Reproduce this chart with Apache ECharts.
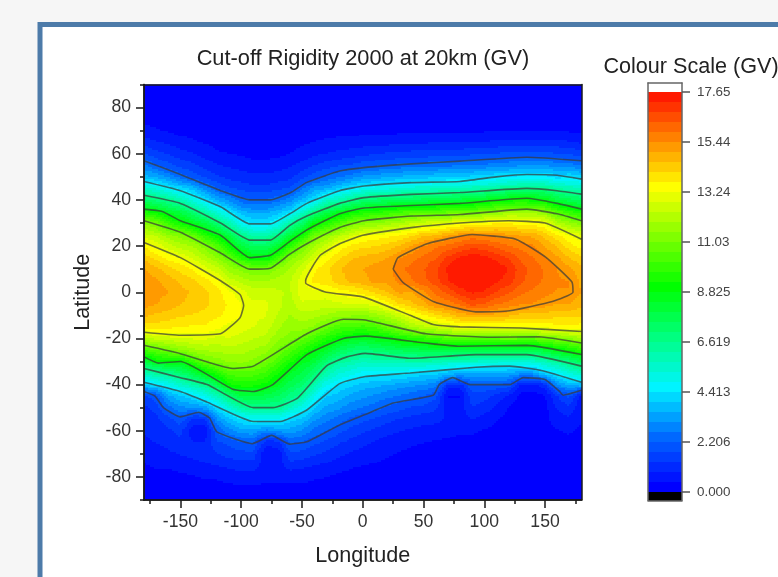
<!DOCTYPE html>
<html><head><meta charset="utf-8">
<style>html,body{margin:0;padding:0;background:#f6f6f6;overflow:hidden}#c{width:778px;height:577px}</style>
<script src="https://cdn.jsdelivr.net/npm/echarts@6/dist/echarts.min.js"></script>
</head><body><div id="c"></div>
<script>
const lons=[-180,-170,-160,-150,-140,-130,-120,-110,-100,-90,-80,-70,-60,-50,-40,-30,-20,-10,0,10,20,30,40,50,60,70,80,90,100,110,120,130,140,150,160,170,180];
const lats=[90,85,80,75,70,65,60,55,50,45,40,35,30,25,20,15,10,5,0,-5,-10,-15,-20,-25,-30,-35,-40,-45,-50,-55,-60,-65,-70,-75,-80,-85,-90];
// rigidity (GV): one list per longitude, running from lat 90 to lat -90
const rigidity=[
[.1,.1,.15,.3,.6,1.1,1.8,2.7,3.7, 5.5,7.3,9.2,11.4,12.5,13.6,14.4,15,15.3, 15.4,15.2,14.7,13.8,12.2,10.2,7.9,5.9,3.9, 1.7,1.2,1,.9,.8,.6,.4,.2,.15,.1],
[.1,.1,.15,.25,.5,.9,1.5,2.2,3.5, 5.2,6.9,8.9,10.9,12.2,13.1,14,14.7,15.1, 15.2,15,14.5,13.9,12.6,10.6,8.8,6.4,4.4, 2,1.5,1.2,1,.9,.7,.5,.3,.15,.1],
[.1,.1,.15,.2,.4,.8,1.3,1.9,3, 4.6,6.6,8.2,10,11.5,12.6,13.5,14.3,14.8, 15,14.8,14.4,13.8,12.7,11,9,6.6,4.8, 3.4,2.4,1.6,1.2,1,.8,.5,.3,.15,.1],
[.1,.1,.15,.2,.3,.6,1.1,1.6,2.5, 4.2,6,7.8,9.2,11.2,12.1,13.2,14,14.5, 14.7,14.6,14.2,13.7,12.8,11.4,8.8,7.2,5.5, 3.9,3,2,1.5,1.2,.9,.6,.35,.2,.1],
[.1,.1,.1,.15,.25,.5,.9,1.4,2, 3.7,5.2,6.9,8.5,10.6,11.9,12.7,13.6,14.2, 14.5,14.4,14.1,13.6,12.9,11.8,9.9,7.9,6.1, 4.4,3,1.3,.5,.9,1,.7,.4,.2,.1],
[.1,.1,.1,.15,.2,.4,.7,1.1,1.7, 2.8,4.4,6.1,7.9,9.5,11.2,12.1,13,13.9, 14.2,14.2,14,13.6,12.9,12,10.8,8.8,6.6, 5,3.3,1.3,.5,.9,1.1,.8,.5,.25,.1],
[.1,.1,.1,.1,.2,.3,.5,.9,1.4, 2.2,3.5,5.2,7,8.8,10.4,11.5,12.5,13.4, 13.9,14,13.8,13.35,12.7,12,11.2,9.6,7.7, 5.8,4.2,3.1,2.2,1.7,1.3,.9,.5,.25,.1],
[.1,.1,.1,.1,.15,.25,.45,.8,1.2, 1.8,3,4.4,6,7.8,9.1,10.7,11.7,12.6, 13.3,13.6,13.5,13.1,12.8,12.2,11.5,10.4,9.1, 7,5.3,3.9,2.9,1.9,1.5,1,.6,.3,.1],
[.1,.1,.1,.1,.1,.2,.4,.7,1.1, 1.6,2.4,3.6,4.8,6.6,8,9.6,11.3,12.2, 13,13.25,13.25,13,12.6,12.1,11.6,10.5,9.4, 7.9,6.2,4.4,3.3,2.2,1.6,1.1,.7,.3,.1],
[.1,.1,.1,.1,.1,.15,.3,.6,1, 1.5,2.2,3.3,4.3,6,7.4,8.8,11,11.9, 12.5,12.9,13,12.8,12.4,11.9,11.3,10.4,9.4, 8,6.6,4.8,3.4,2.3,1.6,1.1,.7,.3,.1],
[.1,.1,.1,.1,.1,.15,.3,.6,1, 1.5,2.2,3.3,4.3,6,7.4,8.8,11,11.9, 12.6,12.9,12.8,12.6,12.2,11.7,11,10.1,9.1, 7.8,6.6,4.8,2.9,1.1,.5,.7,.6,.3,.1],
[.1,.1,.1,.1,.1,.2,.35,.65,1.1, 1.6,2.5,3.7,4.9,6.6,8.2,10,11.5,12.1, 12.4,12.5,12.3,12,11.6,11,10.2,9.3,8.4, 7.5,6.6,4.8,3.2,1.2,.5,.7,.6,.3,.1],
[.1,.1,.1,.1,.15,.25,.45,.8,1.2, 1.8,2.9,4.2,6.2,8,9.7,11.3,12,12.3, 12.3,12.1,11.9,11.6,11.3,10.4,9.4,8.4,7.7, 6.9,5.7,4.2,3.3,2.3,1.7,1.1,.6,.3,.1],
[.1,.1,.1,.1,.2,.35,.6,1,1.6, 2.5,3.6,5.4,7.2,9,11,11.9,12.6,13.1, 13.1,12.7,12.2,11.7,10.8,9.7,8.6,7.9,7.2, 6.3,5,3.9,3,2.2,1.6,1,.6,.3,.1],
[.1,.1,.1,.15,.25,.45,.8,1.3,2, 3.2,4.4,6.6,8.8,10.8,11.8,12.8,13.6,13.8, 13.1,12.7,12.1,11.4,10.2,9,8.1,7.2,6.1, 5,4,3.2,2.5,1.9,1.4,.9,.5,.25,.1],
[.1,.1,.1,.15,.3,.5,.9,1.5,2.3, 3.4,5.6,7.6,9.5,11.3,12.6,13.5,14,13.9, 13.2,12.5,11.9,10.8,9.6,8.4,7.1,6.1,4.9, 4,3.4,2.8,2.2,1.7,1.2,.8,.45,.2,.1],
[.1,.1,.1,.15,.3,.55,1,1.7,2.6, 3.9,5.9,8.3,10.2,12,13.3,14,14.4,14.3, 13.5,12.7,11.6,10.3,9.1,7.7,6.4,5.4,4.4, 3.8,3.2,2.5,1.9,1.4,1,.65,.35,.2,.1],
[.1,.1,.1,.15,.3,.6,1.1,1.8,2.9, 4.4,6.6,8.8,11,12.6,13.8,14.5,14.9,14.7, 13.6,12.8,11.6,10.1,8.7,7.2,6.1,5,4.1, 3.4,2.8,2.1,1.6,1.2,.8,.5,.3,.15,.1],
[.1,.1,.1,.15,.3,.65,1.2,2,3.2, 4.8,7,9.2,11.3,13.1,14,14.7,15,14.8, 13.9,12.8,11.5,10,8.5,7,5.8,4.7,3.8, 3.2,2.6,1.9,1.4,1,.7,.45,.25,.15,.1],
[.1,.1,.1,.15,.3,.7,1.3,2.1,3.3, 5,7.2,9.4,11.4,13.3,14.1,14.8,15.2,15.2, 14.2,13,11.7,10.2,8.8,7.2,5.9,4.6,3.7, 3,2.4,1.7,1.2,.85,.6,.4,.2,.15,.1],
[.1,.1,.1,.15,.3,.7,1.4,2.2,3.5, 5.1,7.4,9.6,11.7,13.4,14.3,15,15.2,15.1, 14.6,13.5,12.1,10.7,8.9,7.4,5.9,4.7,3.5, 2.8,2.1,1.5,1,.7,.5,.3,.2,.1,.1],
[.1,.1,.1,.15,.35,.75,1.4,2.3,3.6, 5.2,7.5,9.9,11.9,13.6,14.6,15.4,15.8,15.6, 15.1,14.1,12.6,11.2,9.4,7.6,6,4.6,3.4, 2.6,1.9,1.3,.9,.6,.4,.25,.15,.1,.1],
[.1,.1,.1,.15,.35,.8,1.5,2.4,3.7, 5.4,7.6,10.1,12.3,13.9,15,15.7,16,15.8, 15,14.4,13.2,11.9,9.6,7.7,6.1,4.4,3.2, 2.4,1.7,1.2,.8,.5,.35,.2,.1,.1,.1],
[.1,.1,.1,.15,.35,.8,1.5,2.4,3.8, 5.5,7.7,10.2,12.5,14.4,15.44,16,16.3,16.2, 15.4,14.9,13.7,12.2,9.9,7.8,6.1,4.2,3.1, 2.2,1.6,1.1,.7,.45,.3,.15,.1,.1,.1],
[.1,.1,.1,.15,.35,.85,1.6,2.5,3.9, 5.6,7.8,10.3,12.7,14.5,15.8,16.3,16.7,16.6, 16,15.4,14.1,12.5,10.2,7.9,6,4.2,2.8, 1.9,1.4,1,.7,.4,.25,.15,.1,.1,.1],
[.1,.1,.1,.15,.35,.85,1.6,2.5,4, 5.7,8,10.4,12.9,14.9,16,16.9,17.3,17.2, 16.5,15.6,14.4,12.8,10.5,8,5.8,3.8,1.2, .4,.6,.8,.6,.35,.2,.1,.1,.1,.1],
[.1,.1,.1,.15,.35,.85,1.6,2.6,4, 5.7,8.1,10.4,13.2,15.2,16.3,17.3,17.65,17.6, 17,16,14.8,13.2,10.5,8,5.6,3.7,1.1, .4,.6,.7,.5,.3,.15,.1,.1,.1,.1],
[.1,.1,.1,.15,.35,.9,1.7,2.7,4.1, 5.9,8.3,10.5,13.4,15.44,16.6,17.5,17.65,17.65, 17.3,16.5,15,13.2,10.8,7.9,5.6,3.5,2.2, 1.6,1.3,.9,.5,.3,.15,.1,.1,.1,.1],
[.1,.1,.1,.15,.4,.9,1.7,2.7,4.2, 6,8.5,11,13.3,15.3,16.5,17.4,17.65,17.6, 17.2,16.3,15,13.2,10.8,7.9,5.5,3.6,2.2, 1.5,1.1,.7,.4,.25,.1,.1,.1,.1,.1],
[.1,.1,.1,.15,.4,.95,1.8,2.8,4.4, 6.2,8.8,11.2,13.7,15.2,16.2,17.1,17.5,17.3, 16.8,15.9,14.9,13.2,10.8,7.9,5.5,3.6,2.2, 1.2,.8,.5,.3,.15,.1,.1,.1,.1,.1],
[.1,.1,.1,.15,.4,1,1.9,2.9,4.4, 6.6,9,11.5,13.6,15.1,15.9,16.7,17.2,17, 16.4,15.7,14.7,13.2,10.9,7.9,5.3,3.5,2, .8,.4,.3,.15,.1,.1,.1,.1,.1,.1],
[.1,.1,.1,.15,.4,1,1.9,3,4.6, 6.6,9.2,11.5,13.5,14.9,15.7,16.2,16.5,16.4, 16,15.5,14.4,13.3,10.8,7.9,5.4,3.2,.8, .3,.2,.15,.1,.1,.1,.1,.1,.1,.1],
[.1,.1,.1,.15,.4,1,1.9,3,4.6, 6.6,9,11.5,13.5,14.8,15.5,15.9,16.2,16.1, 15.8,15.4,14.4,13.3,10.8,7.9,5.5,3.3,.7, .25,.2,.15,.1,.1,.1,.1,.1,.1,.1],
[.1,.1,.1,.15,.4,1,1.9,3,4.6, 6.6,8.8,11.2,13.2,14.3,15,15.44,15.8,15.8, 15.6,15.2,14.4,13.4,11,8.2,5.9,4.2,1.2, .4,.3,.3,.2,.1,.1,.1,.1,.1,.1],
[.1,.1,.1,.15,.4,1,1.8,2.9,4.2, 6.2,8,10.3,12.1,13.7,14.5,15.1,15.44,15.5, 15.4,15,14.3,13.5,11.3,8.8,6.4,4.7,3, 1.3,.9,.7,.4,.25,.15,.1,.1,.1,.1],
[.1,.1,.1,.15,.4,.9,1.7,2.8,4.4, 5.9,7.7,9.7,11.6,13.2,13.9,14.6,15.1,15.44, 15.44,15,14.3,13.5,11.5,9.2,6.9,5.3,3.6, 1.9,1.2,.8,.5,.3,.2,.1,.1,.1,.1],
[.1,.1,.1,.15,.35,.8,1.6,2.6,4.1, 5.8,7.4,9.2,11.2,12.9,13.5,14.2,14.7,14.9, 15,14.7,14.2,13.5,11.9,9.7,7.5,5.8,3.8, .7,.5,.5,.35,.2,.15,.1,.1,.1,.1]
];
// contour lines read as [longitude, latitude]
const north2206=[[-180,57],[-165,54],[-150,51],[-117,44],[-93,40],[-76,40],[-60,43],[-46,47.6],[-19,52.5],[1,54],[40,55.6],[80,56.8],[135,58.5],[180,57]];
const north4413=[[-180,48],[-150,44],[-117,37],[-93,29.6],[-76,29.6],[-60,34],[-46,38.5],[-19,44],[1,46],[40,47.5],[80,48],[110,50],[135,51],[160,50.7],[180,49]];
const north6619=[[-180,42],[-150,38.5],[-117,30],[-93,22.6],[-76,22.6],[-60,29],[-46,33],[-19,38.5],[1,41],[40,42.4],[80,43.2],[135,45],[160,44],[180,42.5]];
const north8825=[[-180,36],[-165,35],[-150,31],[-117,24.7],[-93,15],[-76,16],[-60,22],[-46,27],[-19,34],[1,36.5],[40,37.6],[80,38.5],[135,40.7],[160,38.5],[180,36]];
const north1103=[[-180,31],[-150,26],[-117,17],[-93,10],[-76,10.4],[-60,16.5],[-46,21],[-19,28],[1,31],[40,33],[80,33.7],[135,36],[160,34],[180,31]];
const lobeWest1324=[[-180,21.6],[-150,15],[-117,5],[-101,-1],[-98,-5.6],[-101,-11],[-117,-18],[-150,-18.6],[-180,-17.3]];
const lobeEast1324=[[180,23],[150,30],[120,31],[80,30],[40,28],[0,24.7],[-19,21],[-35,16],[-47,5],[-47,4],[-30,0],[0,-2],[39,-10],[58,-14],[80,-15],[130,-15.5],[180,-17]];
const peak1544=[[25,10],[29,15],[53,21],[90,25],[126,23],[151,15],[172,4.5],[173,0],[156,-4],[121,-8],[93,-8.5],[58,-4],[33,4.3],[25,10]];
const south1103=[[-180,-23],[-150,-26.6],[-107,-33],[-90,-32],[-46,-18],[-16,-11.7],[2,-12],[52,-18],[107,-19.5],[145,-19.3],[180,-22]];
const south8825=[[-180,-28],[-168,-30.7],[-150,-30],[-107,-42],[-90,-43],[-74,-40],[-46,-27],[-16,-20],[2,-19],[52,-22],[80,-23.4],[135,-23],[180,-27]];
const south6619=[[-180,-33],[-150,-37],[-128,-40],[-90,-50],[-74,-50],[-54,-46],[-30,-32],[-13,-28],[2,-26.5],[39,-28.6],[93,-27],[135,-27],[180,-32]];
const south4413=[[-180,-39],[-150,-43],[-128,-47.6],[-90,-56],[-68,-56],[-46,-51],[-19,-39.6],[2,-36.5],[39,-35],[93,-32.5],[121,-32],[148,-34],[180,-39]];
const south2206=[[-180,-43],[-171,-45],[-164,-50],[-150,-54],[-135,-52],[-126,-54.5],[-120,-60.5],[-91,-65.6],[-75,-62],[-60,-65.8],[-46,-64.8],[-19,-57.5],[2,-53],[25,-48],[58,-44.6],[63,-40],[74,-37],[88,-40],[121,-40],[132,-37],[150,-37.8],[162,-43],[165,-44.6],[180,-42.5]];
const contours=[north2206,north4413,north6619,north8825,north1103,lobeWest1324,lobeEast1324,peak1544,south1103,south8825,south6619,south4413,south2206];
const lonMajor=[-150,-100,-50,0,50,100,150], lonMinor=[-175,-125,-75,-25,25,75,125,175];
const latMajor=[-80,-60,-40,-20,0,20,40,60,80], latMinor=[-90,-70,-50,-30,-10,10,30,50,70,90];
const scaleTickLabels=['0.000','2.206','4.413','6.619','8.825','11.03','13.24','15.44','17.65'];
const scaleEdges=[-0.37,0,.44,.88,1.32,1.76,2.21,2.65,3.09,3.53,3.97,4.41,4.85,5.3,5.74,6.18,6.62,7.06,7.5,7.94,8.38,8.83,9.27,9.71,10.15,10.59,11.03,11.47,11.91,12.35,12.8,13.24,13.68,14.12,14.56,15,15.44,15.88,16.32,16.77,17.21,17.65,18.05];
const scaleColours=['#0000ff','#0068ff','#00f4ff','#00ff80','#00ff00','#80ff00','#ffff00','#ff8000','#ff0000'];

const cells=[];
lons.forEach((lon,i)=>lats.forEach((lat,j)=>cells.push([lon,lat,rigidity[i][j],i,j])));
const bands=scaleEdges.slice(0,-1).map((e,i)=>[e,scaleEdges[i+1],e]);
// colour of a shaded fraction inside a grid cell, taken from the band it falls in
const bandFill=scaleEdges.slice(1,-2).map(e=>echarts.color.lerp(Math.min(1,e/17.65),scaleColours));
function fillAt(v){let k=0;while(k<bandFill.length-1&&v>=scaleEdges[k+2])k++;return bandFill[k];}
function node(i,j){return rigidity[Math.max(0,Math.min(36,i))][Math.max(0,Math.min(36,j))];}
const SHADE=6;
const INK='#333', AX='#1a1a1a';
const F='"Liberation Sans",Arial,sans-serif';
const chart=echarts.init(document.getElementById('c'),null,{renderer:'canvas'});
const hide={show:false};
function lineOnly(o){return Object.assign({type:'value',axisLabel:hide,axisTick:hide,splitLine:hide,z:6,axisLine:{show:true,onZero:false,lineStyle:{color:AX,width:1.5}}},o);}
function scaleLine(o){return Object.assign({type:'value',gridIndex:1,min:0,max:1,axisLabel:hide,axisTick:hide,splitLine:hide,z:6,axisLine:{show:true,onZero:false,lineStyle:{color:'#666',width:1.5}}},o);}
const xr={min:-180,max:180}, yr={min:-90,max:90}, sr={min:-0.37,max:18.05};
chart.setOption({
 animation:false,
 backgroundColor:'#f6f6f6',
 textStyle:{fontFamily:F},
 graphic:[{type:'rect',z:-10,silent:true,shape:{x:40,y:24.5,width:800,height:700},style:{fill:'#fff',stroke:'#4d7ba9',lineWidth:5}}],
 title:[
  {text:'Cut-off Rigidity 2000 at 20km (GV)',left:358,top:43,textAlign:'center',textStyle:{fontSize:21.8,fontWeight:'normal',color:'#222',fontFamily:F}},
  {text:'Colour Scale (GV)',left:686,top:51,textAlign:'center',textStyle:{fontSize:21.6,fontWeight:'normal',color:'#222',fontFamily:F}}
 ],
 grid:[{left:144,top:84.5,width:437.5,height:415.5,containLabel:false},{left:648,top:83,width:34,height:417.5}],
 visualMap:{show:false,type:'continuous',seriesIndex:[14],dimension:2,min:0,max:17.65,inRange:{color:scaleColours}},
 xAxis:[
  Object.assign(lineOnly(xr),{position:'bottom',name:'Longitude',nameLocation:'middle',nameGap:45,nameTextStyle:{fontSize:21.6,color:'#222',fontFamily:F},
    axisTick:{show:true,length:8,customValues:lonMajor,lineStyle:{color:AX,width:1.5}},
    axisLabel:{show:true,customValues:lonMajor,margin:13,fontSize:17.6,color:INK,fontFamily:F}}),
  Object.assign(lineOnly(xr),{position:'bottom',axisTick:{show:true,length:4,customValues:lonMinor,lineStyle:{color:AX,width:1.5}}}),
  lineOnly(Object.assign({position:'top'},xr)),
  scaleLine({position:'bottom'}),
  scaleLine({position:'top'})
 ],
 yAxis:[
  Object.assign(lineOnly(yr),{position:'left',name:'Latitude',nameLocation:'middle',nameGap:50,nameRotate:90,nameTextStyle:{fontSize:21.6,color:'#222',fontFamily:F},
    axisTick:{show:true,length:8,customValues:latMajor,lineStyle:{color:AX,width:1.5}},
    axisLabel:{show:true,customValues:latMajor,margin:13,fontSize:17.6,color:INK,fontFamily:F}}),
  Object.assign(lineOnly(yr),{position:'left',axisTick:{show:true,length:4,customValues:latMinor,lineStyle:{color:AX,width:1.5}}}),
  lineOnly(Object.assign({position:'right'},yr)),
  Object.assign(scaleLine(sr),{position:'right',
    axisTick:{show:true,length:8,customValues:scaleTickLabels.map(Number),lineStyle:{color:'#555',width:1.5}},
    axisLabel:{show:true,customValues:scaleTickLabels.map(Number),margin:15,fontSize:13.4,color:'#444',fontFamily:F,
      formatter:v=>scaleTickLabels.find(s=>Math.abs(Number(s)-v)<1e-6)||''}}),
  scaleLine(Object.assign({position:'left'},sr))
 ],
 series:[
  {type:'custom',coordinateSystem:'cartesian2d',xAxisIndex:0,yAxisIndex:0,clip:true,z:2,silent:true,data:cells,
   renderItem(p,api){
    const lon=api.value(0),lat=api.value(1),i=api.value(3),j=api.value(4);
    const a=api.coord([lon-5,lat+2.5]),b=api.coord([lon+5,lat-2.5]);
    const children=[];
    for(let s=0;s<SHADE;s++)for(let t=0;t<SHADE;t++){
      const fx=(s+.5)/SHADE-.5,fy=(t+.5)/SHADE-.5;
      const di=fx<0?-1:1,dj=fy<0?-1:1,wx=Math.abs(fx),wy=Math.abs(fy);
      const v=(1-wx)*(1-wy)*node(i,j)+wx*(1-wy)*node(i+di,j)+(1-wx)*wy*node(i,j+dj)+wx*wy*node(i+di,j+dj);
      const x0=Math.round(a[0]+(b[0]-a[0])*s/SHADE),x1=Math.round(a[0]+(b[0]-a[0])*(s+1)/SHADE);
      const y0=Math.round(a[1]+(b[1]-a[1])*t/SHADE),y1=Math.round(a[1]+(b[1]-a[1])*(t+1)/SHADE);
      children.push({type:'rect',shape:{x:x0,y:y0,width:x1-x0,height:y1-y0},style:{fill:fillAt(v)}});
    }
    return {type:'group',children};
   }},
  ...contours.map(c=>({type:'line',xAxisIndex:0,yAxisIndex:0,data:c,symbol:'none',z:3,silent:true,smooth:0.15,clip:true,lineStyle:{color:'#3a3a3a',opacity:.72,width:1.6}})),
  {type:'custom',coordinateSystem:'cartesian2d',xAxisIndex:3,yAxisIndex:3,z:2,silent:true,data:bands,
   renderItem(p,api){
    const lo=api.value(0),hi=api.value(1),v=api.value(2);
    const a=api.coord([0,hi]),b=api.coord([1,lo]);
    const fill=v<0?'#000':(v>=17.65?'#fff':api.visual('color'));
    const x=Math.round(a[0]),y=Math.round(a[1]);
    return {type:'rect',shape:{x,y,width:Math.round(b[0])-x,height:Math.round(b[1])-y},style:{fill}};
   }}
 ]
});
</script></body></html>
